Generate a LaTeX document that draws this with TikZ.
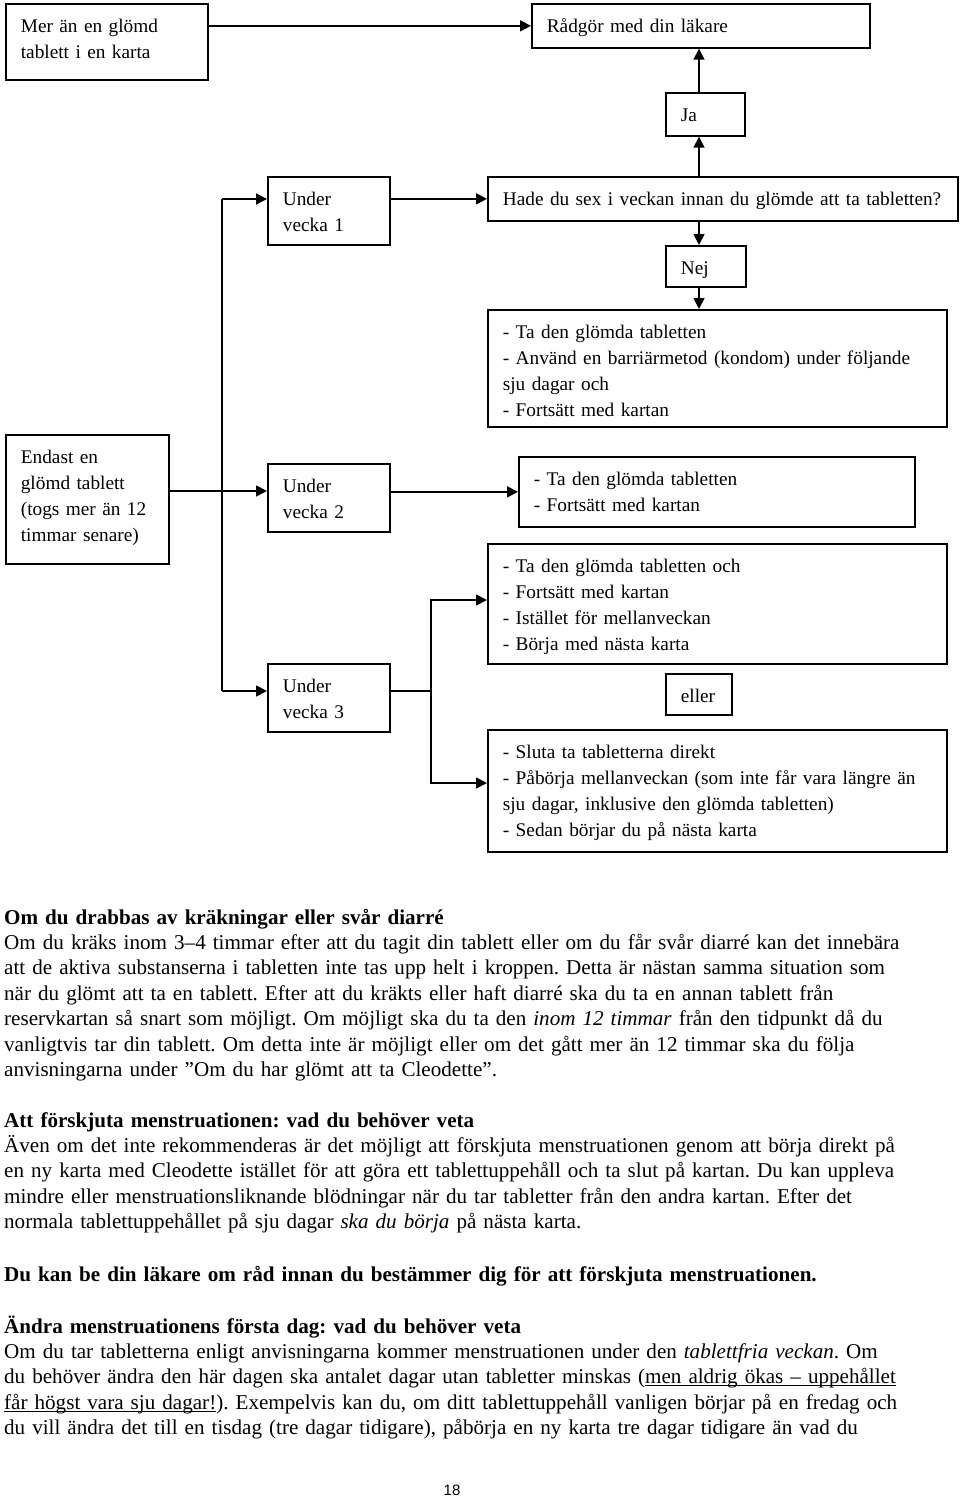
\documentclass[tikz,border=0pt]{standalone}
\usepackage{fontspec}
\setmainfont{Liberation Serif}
\setsansfont{Liberation Sans}
\usetikzlibrary{arrows.meta}
\frenchspacing
\newcommand\understrek[1]{\leavevmode\setbox0\hbox{#1}\rlap{\rule[-2.6pt]{\wd0}{1.1pt}}\box0}

\begin{document}
\begin{tikzpicture}[x=1pt,y=-1pt]
\tikzstyle{box} = [draw,line width=1.7pt,anchor=north west,inner xsep=15pt,inner ysep=0pt,text height=29pt,align=left,font=\fontsize{19.3}{26}\selectfont]
\tikzstyle{conn} = [line width=1.7pt]
\tikzstyle{arr} = [conn,-{Triangle[length=11pt,width=11pt]}]
\tikzstyle{para} = [anchor=base west,inner sep=0pt,text width=955pt,align=left,font=\fontsize{21.1}{25.4}\selectfont]

\useasboundingbox (0,0) rectangle (960,1498);

% flow chart boxes
\node[box,text width=172pt,minimum width=202pt,text depth=47pt] (mer) at (5,3) {Mer än en glömd\\tablett i en karta};
\node[box,text width=308pt,minimum width=338pt,text depth=15pt] (radgor) at (531,3) {Rådgör med din läkare};
\node[box,text width=49pt,minimum width=79pt,text depth=14pt] (ja) at (665,92) {Ja};
\node[box,text width=92pt,minimum width=122pt,text depth=39pt] (vecka1) at (267,176) {Under\\vecka 1};
\node[box,text width=440pt,minimum width=470pt,text depth=15pt] (sex) at (487,176) {\mbox{Hade du sex i veckan innan du glömde att ta tabletten?}};
\node[box,text width=50pt,minimum width=80pt,text depth=12pt] (nej) at (665,245) {Nej};
\node[box,text width=429pt,minimum width=459pt,text depth=88pt] (nejtext) at (487,309) {- Ta den glömda tabletten\\- Använd en barriärmetod (kondom) under följande\\sju dagar och\\- Fortsätt med kartan};
\node[box,text width=133pt,minimum width=163pt,text depth=100pt] (endast) at (5,434) {Endast en\\glömd tablett\\(togs mer än 12\\timmar senare)};
\node[box,text width=92pt,minimum width=122pt,text depth=39pt] (vecka2) at (267,463) {Under\\vecka 2};
\node[box,text width=366pt,minimum width=396pt,text depth=41pt] (tavecka2) at (518,456) {- Ta den glömda tabletten\\- Fortsätt med kartan};
\node[box,text width=429pt,minimum width=459pt,text depth=91pt] (naesta) at (487,543) {- Ta den glömda tabletten och\\- Fortsätt med kartan\\- Istället för mellanveckan\\- Börja med nästa karta};
\node[box,text width=92pt,minimum width=122pt,text depth=39pt] (vecka3) at (267,663) {Under\\vecka 3};
\node[box,text width=36pt,minimum width=66pt,text depth=12pt] (eller) at (665,673) {eller};
\node[box,text width=429pt,minimum width=459pt,text depth=93pt] (sluta) at (487,729) {- Sluta ta tabletterna direkt\\- Påbörja mellanveckan (som inte får vara längre än\\sju dagar, inklusive den glömda tabletten)\\- Sedan börjar du på nästa karta};

% branch points
\coordinate (jx) at (699,0);
\coordinate (t1) at (222,199);
\coordinate (t2) at (222,491);
\coordinate (t3) at (222,691);
\coordinate (fork) at (431,691);
\coordinate (forkup) at (431,600);
\coordinate (forkdn) at (431,783);

% connectors
\draw[arr] (mer.east |- radgor.west) -- (radgor.west);
\draw[arr] (sex.north -| jx) -- (ja.south -| jx);
\draw[arr] (ja.north -| jx) -- (radgor.south -| jx);
\draw[arr] (sex.south -| jx) -- (nej.north -| jx);
\draw[arr] (nej.south -| jx) -- (nejtext.north -| jx);
\draw[arr] (t1) -- (t1 -| vecka1.west);
\draw[arr] (t3) -- (t3 -| vecka3.west);
\draw[conn] (t1) -- (t3);
\draw[arr] (t2 -| endast.east) -- (t2 -| vecka2.west);
\draw[arr] (vecka1.east |- sex.west) -- (sex.west);
\draw[arr] (vecka2.east |- tavecka2.west) -- (tavecka2.west);
\draw[conn] (vecka3.east |- fork) -- (fork);
\draw[arr] (fork) -- (forkup) -- (forkup -| naesta.west);
\draw[arr] (fork) -- (forkdn) -- (forkdn -| sluta.west);

% text below the chart
\node[para] (krak) at (4,924) {\textbf{Om du drabbas av kräkningar eller svår diarré}\\
Om du kräks inom 3–4 timmar efter att du tagit din tablett eller om du får svår diarré kan det innebära\\
att de aktiva substanserna i tabletten inte tas upp helt i kroppen. Detta är nästan samma situation som\\
när du glömt att ta en tablett. Efter att du kräkts eller haft diarré ska du ta en annan tablett från\\
reservkartan så snart som möjligt. Om möjligt ska du ta den \textit{inom 12 timmar} från den tidpunkt då du\\
vanligtvis tar din tablett. Om detta inte är möjligt eller om det gått mer än 12 timmar ska du följa\\
anvisningarna under ”Om du har glömt att ta Cleodette”.};
\node[para] (forskjuta) at (4,1127) {\textbf{Att förskjuta menstruationen: vad du behöver veta}\\
Även om det inte rekommenderas är det möjligt att förskjuta menstruationen genom att börja direkt på\\
en ny karta med Cleodette istället för att göra ett tablettuppehåll och ta slut på kartan. Du kan uppleva\\
mindre eller menstruationsliknande blödningar när du tar tabletter från den andra kartan. Efter det\\
normala tablettuppehållet på sju dagar \textit{ska du börja} på nästa karta.};
\node[para] (rad) at (4,1281) {\textbf{Du kan be din läkare om råd innan du bestämmer dig för att förskjuta menstruationen.}};
\node[para] (andra) at (4,1333) {\textbf{Ändra menstruationens första dag: vad du behöver veta}\\
Om du tar tabletterna enligt anvisningarna kommer menstruationen under den \textit{tablettfria veckan}. Om\\
du behöver ändra den här dagen ska antalet dagar utan tabletter minskas (\understrek{men aldrig ökas – uppehållet}\\
\understrek{får högst vara sju dagar!}). Exempelvis kan du, om ditt tablettuppehåll vanligen börjar på en fredag och\\
du vill ändra det till en tisdag (tre dagar tidigare), påbörja en ny karta tre dagar tidigare än vad du};

\node[font=\fontsize{15}{18}\selectfont\sffamily] (sida) at (452,1490) {18};
\end{tikzpicture}
\end{document}
